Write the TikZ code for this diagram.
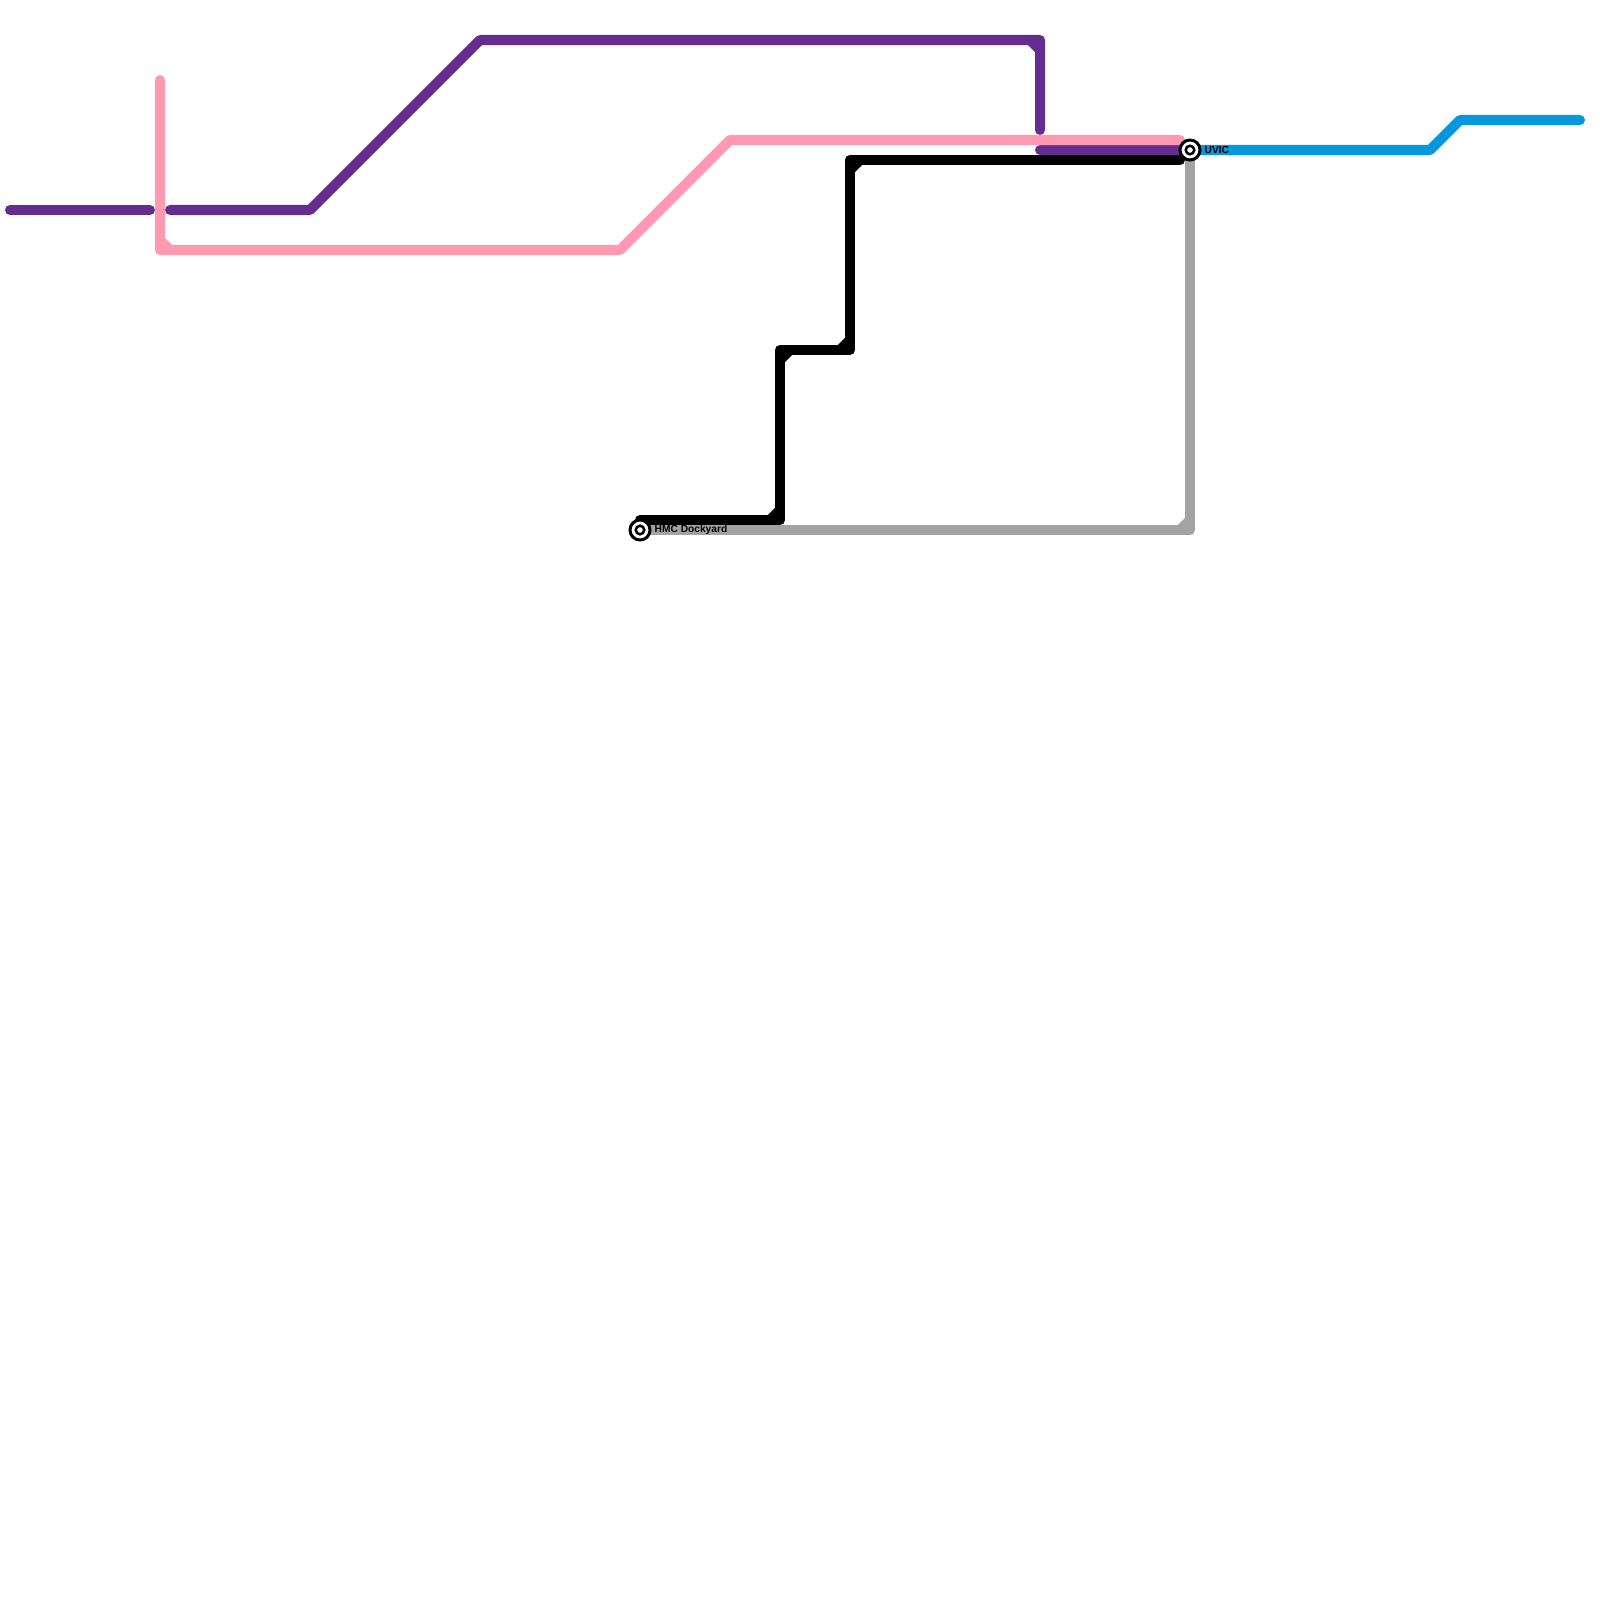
\documentclass[tikz,border=0pt]{standalone}
\usepackage{fontspec}
\setmainfont{Liberation Sans}
\usetikzlibrary{positioning}
\definecolor{mapblack}{RGB}{0,0,0}
\definecolor{mappurple}{RGB}{102,45,145}
\definecolor{mappink}{RGB}{255,153,178}
\definecolor{mapgrey}{RGB}{163,163,163}
\definecolor{mapblue}{RGB}{7,151,220}
\tikzset{
  route/.style={line width=.1cm,line cap=round,line join=round},
  hub/.style={circle,draw=black,fill=white,line width=.03cm,minimum size=.2cm,inner sep=0pt},
  hubdot/.style={circle,draw=black,fill=white,line width=.025cm,minimum size=.085cm,inner sep=0pt},
  hublabel/.style={font=\bfseries\fontsize{2.9pt}{3pt}\selectfont,inner sep=0pt}
}
\begin{document}
\begin{tikzpicture}[x=.01cm,y=-.01cm]
    \useasboundingbox (0,0) rectangle (1600,1600);
    % stations
    \coordinate (dock) at (640,530);
    \coordinate (uvic) at (1190,150);
    % purple
    \coordinate (pa) at (10,210);
    \coordinate (pb) at (150,210);
    \coordinate (pc) at (170,210);
    \coordinate (pd) at (310,210);
    \coordinate (pe) at (480,40);
    \coordinate (pf) at (1040,40);
    \coordinate (pg) at (1040,130);
    \coordinate (ph) at (1040,150);
    \coordinate (pi) at (1180,150);
    \draw[route,mappurple] (pa)--(pb);
    \draw[route,mappurple] (pc)--(pd)--(pe)--(pf)--(pg);
    \draw[route,mappurple] (ph)--(pi);
    \draw[route,mappurple,line cap=butt] (1030,40)--(1040,50);
    % pink
    \coordinate (ra) at (160,80);
    \coordinate (rb) at (160,250);
    \coordinate (rc) at (620,250);
    \coordinate (rd) at (730,140);
    \coordinate (re) at (1180,140);
    \draw[route,mappink] (ra)--(rb)--(rc)--(rd)--(re);
    \draw[route,mappink,line cap=butt] (160,240)--(170,250);
    % grey
    \coordinate (ga) at (1190,530);
    \draw[route,mapgrey] (uvic)--(ga)--(dock);
    \draw[route,mapgrey,line cap=butt] (1180,530)--(1190,520);
    % black
    \coordinate (ka) at (640,520);
    \coordinate (kb) at (780,520);
    \coordinate (kc) at (780,350);
    \coordinate (kd) at (850,350);
    \coordinate (ke) at (850,160);
    \coordinate (kf) at (1180,160);
    \draw[route,mapblack] (ka)--(kb)--(kc)--(kd)--(ke)--(kf);
    \draw[route,mapblack,line cap=butt] (770,520)--(780,510);
    \draw[route,mapblack,line cap=butt] (780,360)--(790,350);
    \draw[route,mapblack,line cap=butt] (840,350)--(850,340);
    \draw[route,mapblack,line cap=butt] (850,170)--(860,160);
    % blue
    \coordinate (ba) at (1430,150);
    \coordinate (bb) at (1460,120);
    \coordinate (bc) at (1580,120);
    \draw[route,mapblue] (uvic)--(ba)--(bb)--(bc);
    % hubs
    \node[hub] (dockhub) at (dock) {};
    \node[hubdot] at (dock) {};
    \node[hub] (uvichub) at (uvic) {};
    \node[hubdot] at (uvic) {};
    \node[hublabel,right=.025cm of dockhub] {HMC Dockyard};
    \node[hublabel,right=.025cm of uvichub] {UVIC};
\end{tikzpicture}
\end{document}
